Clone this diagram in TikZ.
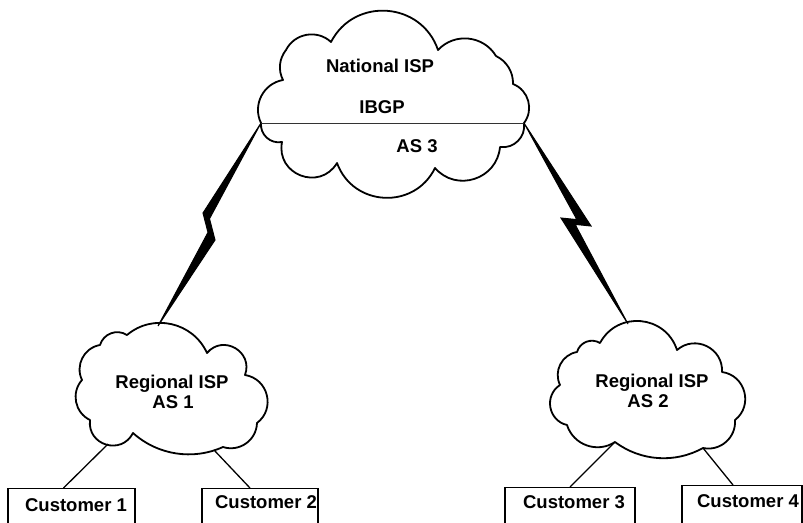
\documentclass[tikz,border=0pt]{standalone}
\usepackage{fontspec}
\setmainfont{Liberation Sans}
\usetikzlibrary{calc}
\begin{document}
\begin{tikzpicture}[x=1pt,y=-1pt,
  cloudline/.style={line width=1.8pt, line join=round},
  % cloud bumps, from shallow (s1) to deep (s4)
  s1/.style={bend left=33, looseness=0.93},
  s2/.style={bend left=53, looseness=1.06},
  s3/.style={bend left=67, looseness=1.22},
  s4/.style={bend left=80, looseness=1.45},
  cloudtext/.style={font=\fontsize{18.5}{20}\selectfont\bfseries, anchor=base, inner sep=0pt},
  custtext/.style={font=\fontsize{18.5}{22}\selectfont\bfseries, anchor=base, inner sep=0pt},
  custbox/.style={draw, line width=1.4pt, anchor=north, minimum height=42pt, inner sep=0pt},
  link/.style={line width=1.3pt},
  bolt/.style={fill=black, draw=black, line width=1pt, line join=miter}
]
\useasboundingbox (0,0) rectangle (803,522);
\clip (0,0) rectangle (803,522);

% National ISP cloud (AS 3)
\draw[cloudline] (261,123) coordinate (natL)
  to[s2] (283,80) to[s1] (286,50) to[s2] (331,42) to[s3] (438,50)
  to[s2] (496,56) to[s1] (513,84) to[s2] (524,123) coordinate (natR)
  to[s2] (500,147) to[s3] (435,168) to[s3] (337,163) to[s4] (282,142)
  to[s2] (261,123) -- cycle;
\draw[line width=0.9pt, black!80] (natL) -- (natR);
\node[cloudtext] (natname) at (380,72) {National ISP};
\node[cloudtext] (ibgp) at (382,113) {IBGP};
\node[cloudtext] (as3) at (417,152) {AS 3};

% Regional ISP cloud (AS 1)
\draw[cloudline] (82,380)
  to[s2] (100,345) to[s2] (127,335) to[s2] (207,353) to[s4] (245,375)
  to[s3] (257,423) to[s2] (223,447) to[s1] (133,433) to[s4] (90,420)
  to[s2] (82,380) -- cycle;
\coordinate (r1top) at (158,326);
\coordinate (r1a) at (108,444);
\coordinate (r1b) at (214,450);
\node[cloudtext] (r1name) at (172,388) {Regional ISP};
\node[cloudtext] (as1) at (173,408) {AS 1};

% Regional ISP cloud (AS 2)
\draw[cloudline] (560,385)
  to[s2] (577,352) to[s2] (600,343) to[s3] (677,350) to[s3] (722,372)
  to[s3] (735,420) to[s2] (703,448) to[s1] (615,442) to[s2] (567,425)
  to[s3] (560,385) -- cycle;
\coordinate (r2top) at (628,324);
\coordinate (r2a) at (615,442);
\coordinate (r2b) at (703,448);
\node[cloudtext] (r2name) at (652,387) {Regional ISP};
\node[cloudtext] (as2) at (648,407) {AS 2};

% Serial links drawn as lightning bolts
\draw[bolt] (natL) -- (203,213) -- (208,232.4) -- (r1top) -- (215,240) -- (209.5,218.7) -- cycle;
\draw[bolt] (natR) -- (591,226) -- (575.1,224.4) -- (r2top) -- (561,218) -- (576.9,219.6) -- cycle;

% Customer boxes
\node[custbox, minimum width=127pt] (c1) at (71.5,488) {};
\node[custbox, minimum width=116pt] (c2) at (260,488) {};
\node[custbox, minimum width=130pt] (c3) at (570,487) {};
\node[custbox, minimum width=120pt] (c4) at (742,485) {};
\node[custtext] (t1) at (76,511) {Customer 1};
\node[custtext] (t2) at (266,508) {Customer 2};
\node[custtext] (t3) at (574,508) {Customer 3};
\node[custtext] (t4) at (748,507) {Customer 4};

% Access links
\draw[link] (r1a) -- ([xshift=-8pt]c1.north);
\draw[link] (r1b) -- ([xshift=-10pt]c2.north);
\draw[link] (r2a) -- (c3.north);
\draw[link] (r2b) -- ([xshift=-9pt]c4.north);
\end{tikzpicture}
\end{document}
